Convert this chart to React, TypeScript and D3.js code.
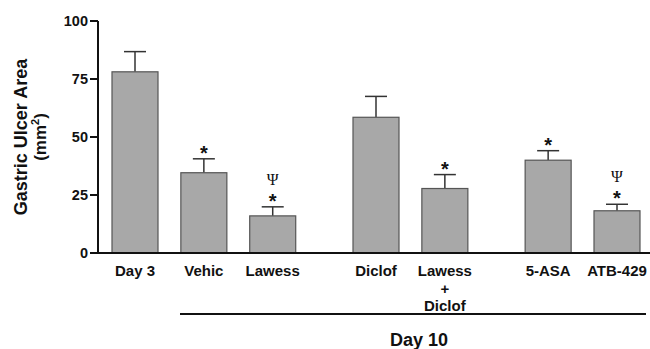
import React from "react";
import { scaleLinear } from "d3";

// data
const categories = ["Day 3", "Vehic", "Lawess", "Diclof", "Lawess + Diclof", "5-ASA", "ATB-429"];
const groups = [0, 0, 0, 1, 1, 2, 2];
const means = [78.1, 34.6, 16.0, 58.5, 27.8, 40.0, 18.2];
const sems = [8.7, 6.0, 3.9, 9.0, 6.0, 4.1, 2.8];
const vsDay3 = [false, true, true, false, true, true, true];
const vsVehicle = [false, false, true, false, false, false, true];
const yTicks = [0, 25, 50, 75, 100];

const width = 650;
const height = 349;
const font = "'Liberation Sans', Arial, sans-serif";
const ink = "#111";

const App = () => {
    const axisX = 98;
    const slot = categories.map((c, i) => i + 0.5 * groups[i]);

    // scales
    const xScale = scaleLinear().domain([0, 7]).range([135, 617]);
    const yScale = scaleLinear().domain([0, 100]).range([253, 21]);
    const barW = 46;
    const capW = 22;

    const bars = categories.map((c, i) => {
        const cx = xScale(slot[i]);
        const top = yScale(means[i]);
        const errTop = yScale(means[i] + sems[i]);
        return (
            <g key={c}>
                <line x1={cx} x2={cx} y1={top} y2={errTop} stroke="#333" strokeWidth={1.5} />
                <line x1={cx - capW / 2} x2={cx + capW / 2} y1={errTop} y2={errTop} stroke="#333" strokeWidth={1.5} />
                <rect x={cx - barW / 2} y={top} width={barW} height={yScale(0) - top}
                    fill="#a8a8a8" stroke="#555" strokeWidth={1.2} />
                {vsDay3[i] && (
                    <text x={cx} y={errTop + 1} textAnchor="middle" fontSize={20} fontWeight="bold"
                        fontFamily={font} fill={ink}>*</text>
                )}
                {vsVehicle[i] && (
                    <text x={cx} y={errTop - 22} textAnchor="middle" fontSize={16}
                        fontFamily="'Liberation Serif', 'DejaVu Serif', serif" fill={ink}>Ψ</text>
                )}
            </g>
        );
    });

    const labels = categories.map((c, i) => {
        const parts = c.split(" + ");
        const lines = parts.length > 1 ? [parts[0], "+", parts[1]] : parts;
        return (
            <text key={c} x={xScale(slot[i])} y={276} textAnchor="middle" fontSize={15}
                fontWeight="bold" fontFamily={font} fill={ink}>
                {lines.map((l, j) => (
                    <tspan key={j} x={xScale(slot[i])} dy={j === 0 ? 0 : 17.5}>{l}</tspan>
                ))}
            </text>
        );
    });

    const ticks = yTicks.map((t) => (
        <g key={t}>
            <line x1={axisX - 8} x2={axisX} y1={yScale(t)} y2={yScale(t)} stroke={ink} strokeWidth={2} />
            <text x={axisX - 10} y={yScale(t) + 5} textAnchor="end" fontSize={14.5}
                fontWeight="bold" fontFamily={font} fill={ink}>{t}</text>
        </g>
    ));

    return (
        <svg width={width} height={height} viewBox={`0 0 ${width} ${height}`}
            style={{ position: "absolute", left: 0, top: 0, background: "#fff" }}>
            {bars}
            <line x1={axisX} x2={axisX} y1={yScale(100)} y2={yScale(0) + 1} stroke={ink} strokeWidth={2} />
            <line x1={axisX} x2={width} y1={yScale(0)} y2={yScale(0)} stroke={ink} strokeWidth={2} />
            {ticks}
            {labels}
            <line x1={180} x2={646} y1={314} y2={314} stroke={ink} strokeWidth={2} />
            <text x={419} y={346} textAnchor="middle" fontSize={18} fontWeight="bold"
                fontFamily={font} fill={ink}>Day 10</text>
            <text transform={`translate(27,${yScale(50)}) rotate(-90)`} textAnchor="middle"
                fontSize={18} fontWeight="bold" fontFamily={font} fill={ink}>Gastric Ulcer Area</text>
            <text transform={`translate(46,${yScale(50)}) rotate(-90)`} textAnchor="middle"
                fontSize={17} fontWeight="bold" fontFamily={font} fill={ink}>
                (mm<tspan dy={-7} fontSize={11}>2</tspan><tspan dy={7}>)</tspan>
            </text>
        </svg>
    );
};

export default App;
